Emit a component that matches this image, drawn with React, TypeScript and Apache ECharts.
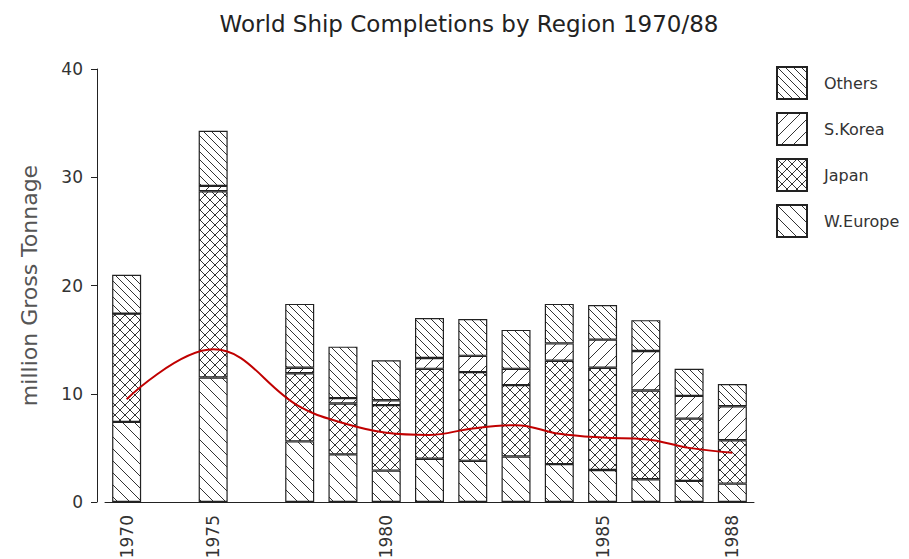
import React, { useEffect, useRef } from 'react';
import * as echarts from 'echarts';

const categories = ['1970', '1971-74', '1975', '1976-77', '1978', '1979', '1980', '1981', '1982', '1983', '1984', '1985', '1986', '1987', '1988'];
const shownLabels = ['1970', '1975', '1980', '1985', '1988'];
const legendOrder = ['Others', 'S.Korea', 'Japan', 'W.Europe'];
const wEurope = [7.4, null, 11.5, null, 5.6, 4.4, 2.9, 4.0, 3.8, 4.2, 3.5, 2.95, 2.1, 1.95, 1.7];
const japan = [10.0, null, 17.2, null, 6.3, 4.7, 6.05, 8.3, 8.2, 6.6, 9.55, 9.45, 8.2, 5.75, 4.0];
const sKorea = [0, null, 0.5, null, 0.5, 0.5, 0.45, 1.0, 1.5, 1.5, 1.6, 2.6, 3.65, 2.1, 3.15];
const others = [3.6, null, 5.1, null, 5.9, 4.75, 3.7, 3.7, 3.4, 3.6, 3.65, 3.2, 2.85, 2.5, 2.05];
const trend = [9.5, null, 14.1, null, 8.8, 7.3, 6.4, 6.2, 6.8, 7.1, 6.3, 5.95, 5.8, 5.0, 4.55];

const FONT = 'DejaVu Sans';

function makePattern(kind: 'back' | 'fwd' | 'cross', size: number) {
  const c = document.createElement('canvas');
  c.width = size;
  c.height = size;
  const ctx = c.getContext('2d')!;
  ctx.fillStyle = '#ffffff';
  ctx.fillRect(0, 0, size, size);
  ctx.strokeStyle = '#333333';
  ctx.lineWidth = 1;
  const back = () => {
    ctx.beginPath();
    ctx.moveTo(-1, -1); ctx.lineTo(size + 1, size + 1);
    ctx.moveTo(-1, size - 1); ctx.lineTo(1, size + 1);
    ctx.moveTo(size - 1, -1); ctx.lineTo(size + 1, 1);
    ctx.stroke();
  };
  const fwd = () => {
    ctx.beginPath();
    ctx.moveTo(-1, size + 1); ctx.lineTo(size + 1, -1);
    ctx.moveTo(-1, 1); ctx.lineTo(1, -1);
    ctx.moveTo(size - 1, size + 1); ctx.lineTo(size + 1, size - 1);
    ctx.stroke();
  };
  if (kind === 'back') back();
  else if (kind === 'fwd') fwd();
  else { back(); fwd(); }
  return { image: c, repeat: 'repeat' };
}

export default function App() {
  const ref = useRef<HTMLDivElement>(null);
  useEffect(() => {
    if (!ref.current) return;
    const chart = echarts.init(ref.current, undefined, { renderer: 'svg' });
    const border = { borderColor: '#222', borderWidth: 1.2 };
    const barBase = { type: 'bar', stack: 'total', barWidth: 29 };
    const option: any = {
      animation: false,
      backgroundColor: '#ffffff',
      title: {
        text: 'World Ship Completions by Region 1970/88',
        left: 464,
        textAlign: 'center',
        top: 7,
        textStyle: { fontFamily: FONT, fontSize: 23, fontWeight: 'normal', color: '#222' },
      },
      legend: {
        orient: 'vertical',
        left: 776,
        top: 66,
        padding: 0,
        itemWidth: 30,
        itemHeight: 32,
        itemGap: 12,
        icon: 'rect',
        data: legendOrder,
        textStyle: { fontFamily: FONT, fontSize: 16, color: '#333', padding: [0, 0, 0, 12] },
      },
      grid: { left: 105, right: 155, top: 69, bottom: 57, outerBoundsMode: 'none' },
      xAxis: {
        type: 'category',
        data: categories,
        boundaryGap: true,
        axisLine: { lineStyle: { color: '#222', width: 1 } },
        axisTick: { alignWithLabel: true, interval: 0, length: 7, lineStyle: { color: '#222' } },
        axisLabel: {
          interval: 0,
          rotate: 90,
          margin: 13,
          fontFamily: FONT,
          fontSize: 17,
          color: '#333',
          formatter: (v: string) => (shownLabels.includes(v) ? v : ''),
        },
      },
      yAxis: {
        type: 'value',
        min: 0,
        max: 40,
        interval: 10,
        offset: 8,
        name: 'million Gross Tonnage',
        nameLocation: 'middle',
        nameGap: 57,
        nameTextStyle: { fontFamily: FONT, fontSize: 22, color: '#555' },
        axisLine: { show: true, lineStyle: { color: '#222', width: 1 } },
        axisTick: { show: true, length: 6, lineStyle: { color: '#222' } },
        axisLabel: { fontFamily: FONT, fontSize: 17, color: '#333', margin: 14 },
        splitLine: { show: false },
      },
      series: [
        { ...barBase, name: 'W.Europe', data: wEurope, itemStyle: { color: makePattern('back', 12), ...border } },
        { ...barBase, name: 'Japan', data: japan, itemStyle: { color: makePattern('cross', 10), ...border } },
        { ...barBase, name: 'S.Korea', data: sKorea, itemStyle: { color: makePattern('fwd', 12), ...border } },
        { ...barBase, name: 'Others', data: others, itemStyle: { color: makePattern('back', 8), ...border } },
        {
          name: 'Trend',
          type: 'line',
          data: trend,
          smooth: 0.4,
          connectNulls: true,
          showSymbol: false,
          symbol: 'none',
          lineStyle: { color: '#c00000', width: 2 },
          z: 10,
        },
      ],
    };
    chart.setOption(option);
    return () => chart.dispose();
  }, []);
  return <div ref={ref} style={{ position: 'fixed', left: 0, top: 0, width: 909, height: 559 }} />;
}
